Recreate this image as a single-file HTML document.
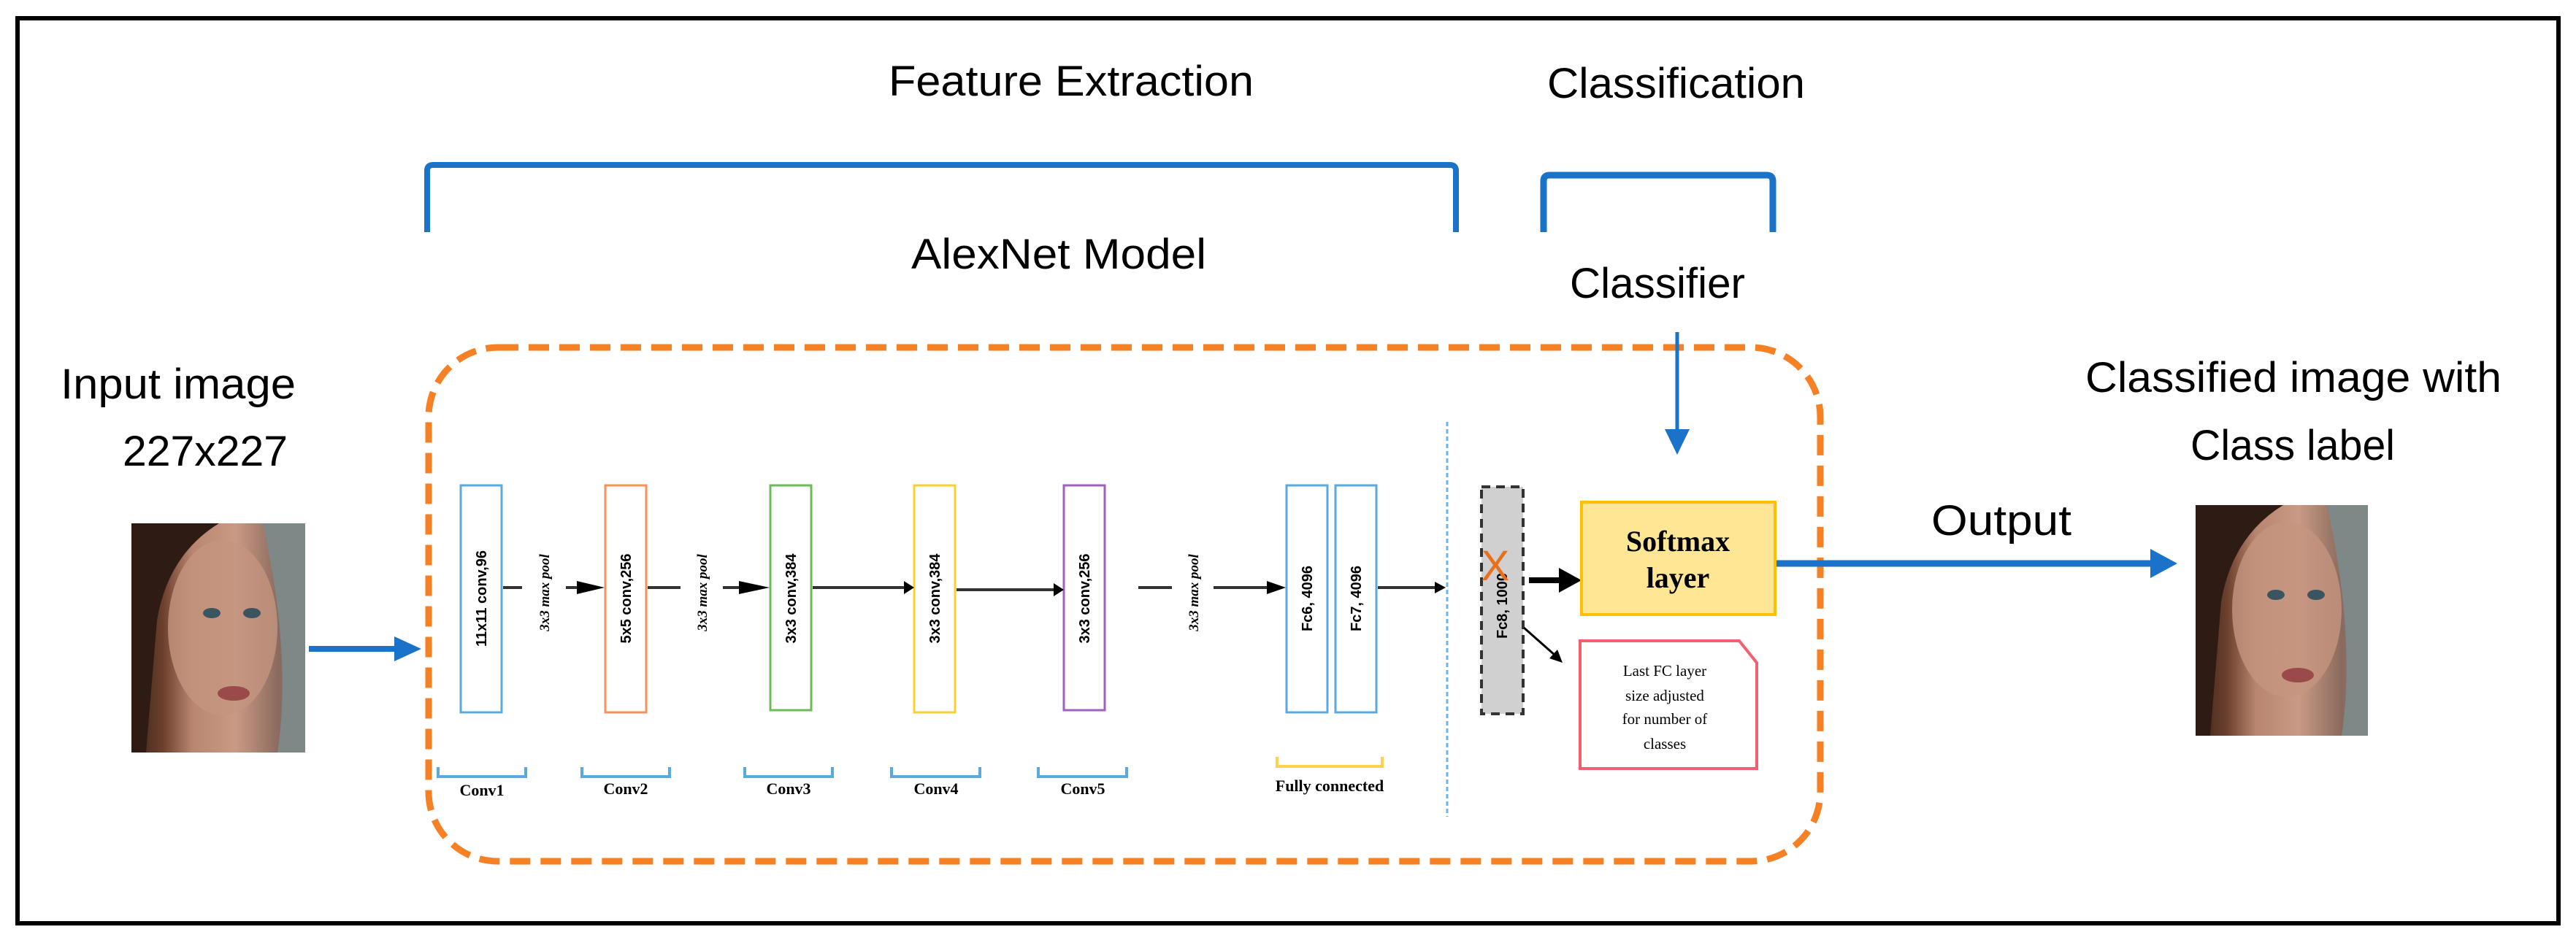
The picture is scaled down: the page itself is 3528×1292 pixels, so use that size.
<!DOCTYPE html>
<html><head><meta charset="utf-8"><style>
html,body{margin:0;padding:0;background:#fff}
svg{display:block}
.t{font-family:"Liberation Sans",sans-serif;fill:#000}
.s{font-family:"Liberation Serif",serif;fill:#000}
</style></head><body>
<svg width="3528" height="1292" viewBox="0 0 3528 1292" xmlns="http://www.w3.org/2000/svg">
<defs>
<marker id="ab" markerWidth="6" markerHeight="6" refX="5" refY="3" orient="auto" markerUnits="userSpaceOnUse" viewBox="0 0 6 6"><path d="M0,0 L6,3 L0,6 z" fill="#000"/></marker>
<linearGradient id="face" x1="0" y1="0" x2="1" y2="0">
<stop offset="0" stop-color="#3a2418"/><stop offset="0.18" stop-color="#6b3f2c"/><stop offset="0.35" stop-color="#b88670"/><stop offset="0.6" stop-color="#c99a85"/><stop offset="0.85" stop-color="#8a6a5e"/><stop offset="1" stop-color="#7c8584"/>
</linearGradient>
</defs>
<rect x="24" y="25" width="3480" height="1240" fill="none" stroke="#000" stroke-width="6"/>

<text class="t" x="1217" y="131" font-size="58" textLength="500" lengthAdjust="spacingAndGlyphs">Feature Extraction</text>
<text class="t" x="2119" y="134" font-size="58" textLength="353" lengthAdjust="spacingAndGlyphs">Classification</text>
<text class="t" x="1248" y="368" font-size="58" textLength="404" lengthAdjust="spacingAndGlyphs">AlexNet Model</text>
<text class="t" x="2150" y="408" font-size="58" textLength="240" lengthAdjust="spacingAndGlyphs">Classifier</text>
<text class="t" x="83" y="546" font-size="58" textLength="322" lengthAdjust="spacingAndGlyphs">Input image</text>
<text class="t" x="168" y="638" font-size="58" textLength="226" lengthAdjust="spacingAndGlyphs">227x227</text>
<text class="t" x="2856" y="537" font-size="58" textLength="570" lengthAdjust="spacingAndGlyphs">Classified image with</text>
<text class="t" x="3000" y="630" font-size="58" textLength="280" lengthAdjust="spacingAndGlyphs">Class label</text>
<text class="t" x="2645" y="733" font-size="58" textLength="192" lengthAdjust="spacingAndGlyphs">Output</text>

<!-- brackets -->
<path d="M585,318 L585,234 Q585,226 593,226 L1986,226 Q1994,226 1994,234 L1994,318" fill="none" stroke="#1a73c8" stroke-width="8"/>
<path d="M2114,318 L2114,248 Q2114,240 2122,240 L2420,240 Q2428,240 2428,248 L2428,318" fill="none" stroke="#1a73c8" stroke-width="9"/>

<!-- dashed rounded rect -->
<rect x="587" y="476" width="1906" height="704" rx="95" ry="95" fill="none" stroke="#f68024" stroke-width="9" stroke-dasharray="28 14"/>

<!-- faces -->
<g>
<rect x="180" y="717" width="238" height="314" fill="url(#face)"/>
<ellipse cx="305" cy="860" rx="75" ry="120" fill="#c49580" opacity="0.8"/>
<path d="M180,717 L300,717 Q230,760 215,850 L200,1031 L180,1031z" fill="#2e1c14"/>
<path d="M360,717 L418,717 L418,1031 L380,1031 Q400,900 360,717z" fill="#7d8887"/>
<ellipse cx="290" cy="840" rx="12" ry="7" fill="#3b5560"/><ellipse cx="345" cy="840" rx="12" ry="7" fill="#3b5560"/>
<ellipse cx="320" cy="950" rx="22" ry="10" fill="#9a4a48"/>
</g>
<g>
<rect x="3007" y="692" width="236" height="316" fill="url(#face)"/>
<ellipse cx="3132" cy="835" rx="75" ry="120" fill="#c49580" opacity="0.8"/>
<path d="M3007,692 L3127,692 Q3057,735 3042,825 L3027,1008 L3007,1008z" fill="#2e1c14"/>
<path d="M3187,692 L3243,692 L3243,1008 L3207,1008 Q3227,875 3187,692z" fill="#7d8887"/>
<ellipse cx="3117" cy="815" rx="12" ry="7" fill="#3b5560"/><ellipse cx="3172" cy="815" rx="12" ry="7" fill="#3b5560"/>
<ellipse cx="3147" cy="925" rx="22" ry="10" fill="#9a4a48"/>
</g>

<!-- blue arrows -->
<line x1="423" y1="889" x2="545" y2="889" stroke="#1a73c8" stroke-width="8"/>
<path d="M540,872 L577,889 L540,906z" fill="#1a73c8"/>
<line x1="2432" y1="772" x2="2950" y2="772" stroke="#1a73c8" stroke-width="9"/>
<path d="M2945,752 L2982,772 L2945,792z" fill="#1a73c8"/>
<line x1="2297" y1="455" x2="2297" y2="595" stroke="#1a73c8" stroke-width="5"/>
<path d="M2280,588 L2297,623 L2314,588z" fill="#1a73c8"/>

<!-- conv boxes -->
<g fill="#fff" stroke-width="3">
<rect x="631" y="665" width="56" height="311" stroke="#5aaae0"/>
<rect x="829" y="665" width="56" height="311" stroke="#f8905a"/>
<rect x="1055" y="665" width="56" height="308" stroke="#6cbb5a"/>
<rect x="1252" y="665" width="56" height="311" stroke="#f8d030"/>
<rect x="1457" y="665" width="56" height="308" stroke="#a060c0"/>
<rect x="1762" y="665" width="56" height="311" stroke="#5aaae0"/>
<rect x="1829" y="665" width="56" height="311" stroke="#5aaae0"/>
</g>
<g class="t" font-size="20" font-weight="bold" text-anchor="middle">
<text transform="translate(666,820) rotate(-90)">11x11 conv,96</text>
<text transform="translate(864,820) rotate(-90)">5x5 conv,256</text>
<text transform="translate(1090,820) rotate(-90)">3x3 conv,384</text>
<text transform="translate(1287,820) rotate(-90)">3x3 conv,384</text>
<text transform="translate(1492,820) rotate(-90)">3x3 conv,256</text>
<text transform="translate(1797,820) rotate(-90)">Fc6, 4096</text>
<text transform="translate(1864,820) rotate(-90)">Fc7, 4096</text>
</g>
<g class="s" font-size="19" font-style="italic" font-weight="bold" text-anchor="middle">
<text transform="translate(752,812) rotate(-90)">3x3 max pool</text>
<text transform="translate(968,812) rotate(-90)">3x3 max pool</text>
<text transform="translate(1641,812) rotate(-90)">3x3 max pool</text>
</g>
<!-- black arrows -->
<g stroke="#333" stroke-width="4">
<line x1="689" y1="805" x2="715" y2="805"/><line x1="775" y1="805" x2="790" y2="805"/>
<line x1="887" y1="805" x2="932" y2="805"/><line x1="990" y1="805" x2="1012" y2="805"/>
<line x1="1113" y1="805" x2="1238" y2="805"/>
<line x1="1310" y1="808" x2="1443" y2="808"/>
<line x1="1559" y1="805" x2="1605" y2="805"/><line x1="1662" y1="805" x2="1735" y2="805"/>
<line x1="1887" y1="805" x2="1965" y2="805"/>
</g>
<g fill="#000">
<path d="M790,796 L828,805 L790,814z"/>
<path d="M1012,796 L1054,805 L1012,814z"/>
<path d="M1238,796 L1252,805 L1238,814z"/>
<path d="M1443,799 L1457,808 L1443,817z"/>
<path d="M1735,796 L1761,805 L1735,814z"/>
<path d="M1965,797 L1980,805 L1965,813z"/>
</g>
<!-- bottom brackets -->
<g fill="none" stroke="#5aaae0" stroke-width="4">
<path d="M600,1051 L600,1064 L720,1064 L720,1051"/>
<path d="M797,1051 L797,1064 L917,1064 L917,1051"/>
<path d="M1020,1051 L1020,1064 L1140,1064 L1140,1051"/>
<path d="M1221,1051 L1221,1064 L1342,1064 L1342,1051"/>
<path d="M1422,1051 L1422,1064 L1543,1064 L1543,1051"/>
</g>
<path d="M1749,1037 L1749,1050 L1893,1050 L1893,1037" fill="none" stroke="#ffd24a" stroke-width="4"/>
<g class="s" font-size="22" font-weight="bold" text-anchor="middle">
<text x="660" y="1090">Conv1</text><text x="857" y="1088">Conv2</text><text x="1080" y="1088">Conv3</text>
<text x="1282" y="1088">Conv4</text><text x="1483" y="1088">Conv5</text><text x="1821" y="1084">Fully connected</text>
</g>

<!-- dotted blue line -->
<line x1="1982" y1="578" x2="1982" y2="1119" stroke="#6ab4e8" stroke-width="3" stroke-dasharray="6 4"/>

<!-- Fc8 -->
<rect x="2029" y="667" width="57" height="311" fill="#d0d0d0" stroke="#333" stroke-width="4" stroke-dasharray="12 8"/>
<text class="t" font-size="20" font-weight="bold" text-anchor="middle" transform="translate(2064,830) rotate(-90)">Fc8, 1000</text>
<text x="2048" y="795" font-family="Liberation Sans,sans-serif" font-size="58" fill="#e8701a" text-anchor="middle">X</text>
<line x1="2094" y1="795" x2="2140" y2="795" stroke="#000" stroke-width="8"/>
<path d="M2135,778 L2166,795 L2135,812z" fill="#000"/>
<line x1="2087" y1="860" x2="2130" y2="898" stroke="#000" stroke-width="3"/>
<path d="M2122,902 L2140,908 L2133,890z" fill="#000"/>

<!-- softmax -->
<rect x="2166" y="688" width="265" height="154" fill="#fee695" stroke="#ffc000" stroke-width="4"/>
<text class="s" x="2298" y="755" font-size="40" font-weight="bold" text-anchor="middle">Softmax</text>
<text class="s" x="2298" y="805" font-size="40" font-weight="bold" text-anchor="middle">layer</text>

<!-- red note -->
<path d="M2164,878 L2382,878 L2406,908 L2406,1053 L2164,1053z" fill="#fff" stroke="#f06070" stroke-width="4"/>
<g class="s" font-size="21" text-anchor="middle">
<text x="2280" y="926">Last FC layer</text>
<text x="2280" y="960">size adjusted</text>
<text x="2280" y="992">for number of</text>
<text x="2280" y="1026">classes</text>
</g>
</svg>
</body></html>
